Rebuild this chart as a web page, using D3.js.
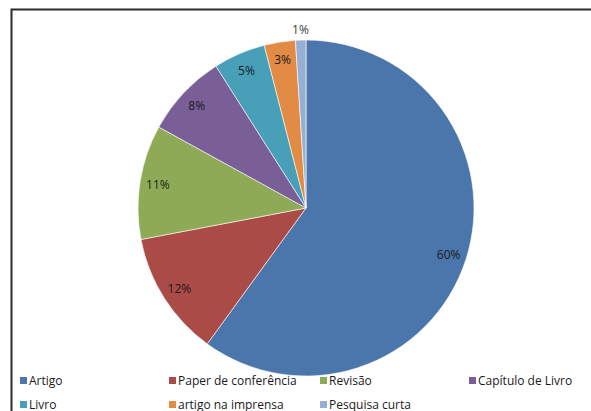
<!DOCTYPE html>
<html>
<head>
<meta charset="utf-8">
<script src="https://cdn.jsdelivr.net/npm/d3@7"></script>
<style>
  html, body { margin: 0; padding: 0; background: #fff; overflow: hidden; }
  svg { display: block; font-family: "Open Sans", "Liberation Sans", sans-serif; }
</style>
</head>
<body>
<svg id="chart" width="591" height="411"></svg>
<script>
// Publication types and their share (%)
const categories = ["Artigo", "Paper de conferência", "Revisão", "Capítulo de Livro",
                    "Livro", "artigo na imprensa", "Pesquisa curta"];
const values = [60, 12, 11, 8, 5, 3, 1];
const colors = ["#4A76AC", "#AB4B48", "#8FAA56", "#7A5E98", "#47A0B7", "#E18B45", "#97AFD4"];

const svg = d3.select("#chart");

// outer frame (runs off the right and bottom edges)
svg.append("rect")
  .attr("x", 11.5).attr("y", 9.5)
  .attr("width", 700).attr("height", 500)
  .attr("fill", "none")
  .attr("stroke", "#2b2b2b")
  .attr("stroke-width", 2);

const cx = 306, cy = 208, radius = 168;

const pie = d3.pie().sort(null).value(d => d.value).startAngle(0).endAngle(2 * Math.PI);
const data = categories.map((c, i) => ({ name: c, value: values[i], color: colors[i] }));
const arcs = pie(data);

const arc = d3.arc().innerRadius(0).outerRadius(radius);
const labelArc = d3.arc().innerRadius(150).outerRadius(150);
const outerLabelArc = d3.arc().innerRadius(178).outerRadius(178);

const g = svg.append("g").attr("transform", `translate(${cx},${cy})`);

g.selectAll("path.slice")
  .data(arcs)
  .join("path")
  .attr("class", "slice")
  .attr("d", arc)
  .attr("fill", d => d.data.color)
  .attr("stroke", "#ffffff")
  .attr("stroke-width", 0.6);

// percentage labels; very small slices get their label outside
g.selectAll("text.pct")
  .data(arcs)
  .join("text")
  .attr("class", "pct")
  .attr("transform", d => {
    const a = d.data.value < 2 ? outerLabelArc : labelArc;
    const [x, y] = a.centroid(d);
    return `translate(${x},${y})`;
  })
  .attr("text-anchor", "middle")
  .attr("dy", "0.35em")
  .attr("font-size", 12)
  .attr("fill", d => d.data.value < 2 ? "#404040" : "#1a1a1a")
  .text(d => d.data.value + "%");

// legend: two rows, four columns
const colX = [20, 169, 320, 469];
const rowY = [381, 405];
const legend = svg.append("g");
data.forEach((d, i) => {
  const col = i % 4, row = Math.floor(i / 4);
  const item = legend.append("g")
    .attr("transform", `translate(${colX[col]},${rowY[row]})`);
  item.append("rect")
    .attr("x", 0).attr("y", -4)
    .attr("width", 7).attr("height", 7)
    .attr("fill", d.color);
  item.append("text")
    .attr("x", 9).attr("y", 0)
    .attr("dy", "0.35em")
    .attr("font-size", 12)
    .attr("fill", "#1a1a1a")
    .text(d.name);
});
</script>
</body>
</html>
